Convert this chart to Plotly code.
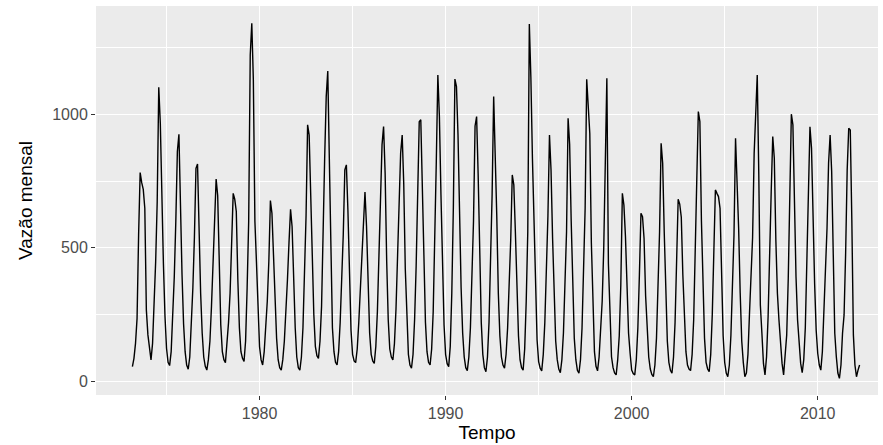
import plotly.graph_objects as go

# Série mensal de vazão, início em março de 1973
inicio_ano = 1973
inicio_mes = 3

vazao_1970s = [
    54, 85, 141, 235, 548, 782, 744, 719, 648, 266,                 # 1973 (mar-dez)
    173, 129, 79, 141, 289, 448, 673, 1102, 967, 673, 441, 244,     # 1974
    123, 70, 58, 110, 230, 390, 600, 861, 926, 640, 400, 215,       # 1975
    110, 60, 44, 90, 200, 350, 540, 798, 814, 560, 330, 180,        # 1976
    90, 55, 41, 80, 150, 280, 420, 560, 758, 696, 400, 210,         # 1977
    110, 80, 69, 130, 220, 330, 500, 704, 682, 636, 380, 200,       # 1978
    110, 85, 73, 150, 350, 600, 1223, 1342, 1130, 600, 448, 248,    # 1979
]
vazao_1980s = [
    129, 79, 60, 110, 200, 300, 450, 677, 629, 480, 300, 160,       # 1980
    80, 50, 41, 80, 150, 250, 380, 520, 644, 579, 380, 200,         # 1981
    90, 50, 41, 90, 200, 380, 620, 961, 923, 700, 450, 250,         # 1982
    130, 95, 85, 150, 280, 504, 836, 1067, 1163, 836, 450, 200,     # 1983
    110, 70, 60, 110, 220, 380, 550, 792, 811, 640, 380, 190,       # 1984
    100, 75, 69, 120, 220, 350, 480, 636, 709, 580, 350, 180,       # 1985
    100, 75, 66, 130, 260, 460, 680, 886, 955, 779, 450, 230,       # 1986
    120, 90, 79, 140, 270, 460, 660, 855, 923, 740, 420, 210,       # 1987
    100, 60, 48, 100, 230, 430, 700, 973, 980, 740, 430, 220,       # 1988
    110, 70, 60, 120, 260, 500, 823, 1148, 992, 700, 400, 210,      # 1989
]
vazao_1990s = [
    100, 65, 54, 130, 330, 650, 1133, 1105, 923, 620, 350, 180,     # 1990
    90, 50, 39, 90, 200, 400, 600, 957, 992, 773, 450, 220,         # 1991
    100, 50, 35, 90, 220, 450, 700, 1067, 886, 620, 330, 170,       # 1992
    90, 60, 48, 100, 200, 350, 530, 773, 736, 560, 330, 170,        # 1993
    80, 50, 41, 120, 300, 560, 1339, 1138, 836, 573, 310, 154,      # 1994
    73, 48, 38, 100, 220, 420, 620, 923, 792, 535, 298, 150,        # 1995
    80, 45, 31, 80, 180, 350, 560, 986, 888, 600, 330, 160,         # 1996
    80, 40, 29, 80, 200, 400, 650, 1132, 1011, 929, 520, 250,       # 1997
    110, 55, 38, 90, 200, 300, 500, 769, 1136, 441, 223, 91,        # 1998
    50, 30, 23, 80, 170, 360, 704, 660, 542, 366, 179, 104,         # 1999
]
vazao_2000s = [
    41, 28, 23, 80, 200, 400, 629, 617, 535, 320, 170, 90,          # 2000
    45, 25, 16, 60, 160, 330, 560, 892, 817, 560, 300, 150,         # 2001
    70, 40, 29, 90, 220, 420, 682, 664, 615, 400, 220, 110,         # 2002
    60, 45, 39, 100, 230, 450, 754, 1011, 973, 600, 330, 160,       # 2003
    70, 45, 35, 100, 250, 450, 717, 704, 692, 648, 350, 170,        # 2004
    70, 30, 16, 60, 170, 350, 548, 911, 767, 573, 330, 150,         # 2005
    70, 16, 30, 100, 254, 400, 539, 854, 1023, 1148, 773, 285,      # 2006
    179, 66, 23, 91, 241, 516, 710, 917, 836, 529, 329, 229,        # 2007
    129, 66, 23, 91, 173, 385, 648, 1001, 961, 648, 391, 229,       # 2008
    129, 66, 31, 80, 200, 420, 640, 954, 873, 600, 366, 191,        # 2009
]
vazao_2010s = [
    104, 60, 41, 110, 250, 391, 573, 817, 923, 786, 460, 179,       # 2010
    91, 30, 10, 60, 179, 248, 479, 792, 948, 942, 604, 173,         # 2011
    60, 16, 41, 60,                                                 # 2012 (jan-abr)
]

x_ticks = [1980, 1990, 2000, 2010]
x_minor = [1975, 1985, 1995, 2005]
y_ticks = [0, 500, 1000]
y_minor = [250, 750, 1250]

vazao = vazao_1970s + vazao_1980s + vazao_1990s + vazao_2000s + vazao_2010s
tempo = [inicio_ano + (inicio_mes - 1 + i) / 12 for i in range(len(vazao))]

fig = go.Figure()
fig.add_trace(go.Scatter(x=tempo, y=vazao, mode="lines",
                         line=dict(color="black", width=1.4),
                         hoverinfo="x+y", showlegend=False))

font_family = "Liberation Sans, Arial, sans-serif"
axis_common = dict(
    showgrid=True, gridcolor="white", gridwidth=1.2,
    zeroline=False, showline=False,
    ticks="outside", ticklen=4, tickwidth=1, tickcolor="#333333",
    tickfont=dict(family=font_family, size=16, color="#4D4D4D"),
)

fig.update_layout(
    width=883, height=445,
    margin=dict(l=96, r=5, t=6, b=50),
    paper_bgcolor="white",
    plot_bgcolor="#EBEBEB",
    xaxis=dict(
        **axis_common,
        range=[1971.21, 2013.24],
        tickvals=x_ticks, ticktext=[str(v) for v in x_ticks],
        minor=dict(tickvals=x_minor, showgrid=True, gridcolor="white",
                   gridwidth=0.6, ticks=""),
        title=dict(text="Tempo", font=dict(family=font_family, size=19, color="black"),
                   standoff=3),
    ),
    yaxis=dict(
        **axis_common,
        range=[-52.5, 1407],
        tickvals=y_ticks, ticktext=[str(v) for v in y_ticks],
        minor=dict(tickvals=y_minor, showgrid=True, gridcolor="white",
                   gridwidth=0.6, ticks=""),
        title=dict(text="Vazão mensal", font=dict(family=font_family, size=19, color="black"),
                   standoff=14),
    ),
)

fig.write_html("out.html")
